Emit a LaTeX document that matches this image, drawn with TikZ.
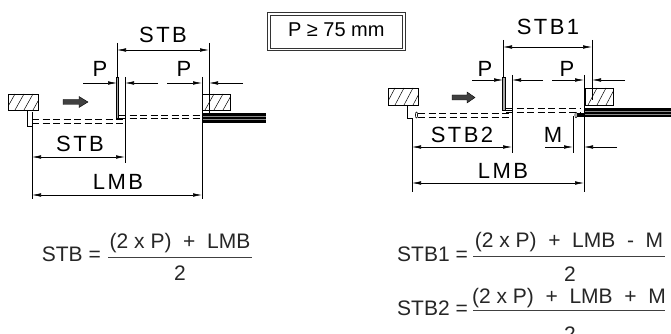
\documentclass[tikz,border=0pt]{standalone}
\usepackage{fontspec}
\setmainfont{Liberation Sans}
\newfontfamily\lblfont[LetterSpace=11]{Liberation Sans}
\usetikzlibrary{arrows.meta}
\tikzset{
 ln/.style={line width=0.6pt},
 dimline/.style={ln, {Latex[length=9pt,width=3.6pt]}-{Latex[length=9pt,width=3.6pt]}},
 pointer/.style={ln, -{Latex[length=9pt,width=3.6pt]}},
 lbl/.style={font=\lblfont\fontsize{22}{22}\selectfont, inner sep=0pt},
 frm/.style={font=\fontsize{21}{21}\selectfont, inner sep=0pt, text=black!85, anchor=base},
 fracline/.style={line width=0.7pt, draw=black!75},
 dashtube/.style={line width=0.5pt, dash pattern=on 7pt off 3.5pt},
 wall/.style={line width=0.8pt, fill=white},
 hatch/.style={line width=0.5pt},
 tube/.style={line width=0.5pt, fill=black!35},
 cable/.style={fill=black},
 blockarrow/.style={fill=black!75, draw=black, line width=0.4pt},
 boxline/.style={line width=0.6pt, draw=black!80},
}
\begin{document}
\begin{tikzpicture}[x=1pt,y=-1pt]
\useasboundingbox (0,0) rectangle (671,334);
% ================= LEFT DIAGRAM =================
\draw[wall] (8,94) rectangle (38,110);
\begin{scope}\clip (8,94) rectangle (38,110);
\foreach \a in {6,15,24,33} \draw[hatch] (\a,110) -- (\a+9,94);
\end{scope}
\draw[wall] (202,94) rectangle (230,110);
\begin{scope}\clip (202,94) rectangle (230,110);
\foreach \a in {205,214,223} \draw[hatch] (\a,110) -- (\a+9,94);
\end{scope}
\draw[ln] (27,110) -- (27,126) -- (32,126);
\fill[cable] (202,113) rectangle (266,123);
\draw[black!45, line width=0.5pt] (202,116.3) -- (266,116.3) (202,119.7) -- (266,119.7);
\draw[dashtube] (32,119.5) -- (125,119.5) (32,123) -- (125,123);
\draw[dashtube] (119,115) -- (202,115) (119,118.5) -- (202,118.5);
\draw[tube] (116,77) rectangle (118.6,118);
\draw[blockarrow] (63,99.5) -- (79,99.5) -- (79,96.5) -- (88,102) -- (79,107.5) -- (79,104.5) -- (63,104.5) -- cycle;
\coordinate (la1) at (32,112); \coordinate (la2) at (32,199);
\coordinate (lb1) at (117,43); \coordinate (lb2) at (117,77);
\coordinate (lc1) at (125,77); \coordinate (lc2) at (125,163);
\coordinate (ld1) at (202,77); \coordinate (ld2) at (202,199);
\coordinate (le1) at (209,43); \coordinate (le2) at (209,113);
\draw[ln] (la1) -- (la2) (lb1) -- (lb2) (lc1) -- (lc2) (ld1) -- (ld2) (le1) -- (le2);
\coordinate (lstbA) at (117,50); \coordinate (lstbB) at (209,50);
\draw[dimline] (lstbA) -- (lstbB);
\node[lbl] (tLstbTop) at (163,35) {STB};
\coordinate (lp1o) at (83,83); \coordinate (lp1i) at (117,83);
\coordinate (lp2o) at (158,83); \coordinate (lp2i) at (125,83);
\draw[pointer] (lp1o) -- (lp1i); \draw[pointer] (lp2o) -- (lp2i);
\node[lbl] (tLp1) at (100,68.5) {P};
\coordinate (lp3o) at (167,83); \coordinate (lp3i) at (202,83);
\coordinate (lp4o) at (243,83); \coordinate (lp4i) at (209,83);
\draw[pointer] (lp3o) -- (lp3i); \draw[pointer] (lp4o) -- (lp4i);
\node[lbl] (tLp2) at (184,68.5) {P};
\coordinate (lsA) at (32,157); \coordinate (lsB) at (125,157);
\draw[dimline] (lsA) -- (lsB);
\node[lbl] (tLstbBot) at (80,143.5) {STB};
\coordinate (lmA) at (32,195); \coordinate (lmB) at (202,195);
\draw[dimline] (lmA) -- (lmB);
\node[lbl] (tLlmb) at (118,182) {LMB};
% ================= BOX =================
\coordinate (boxo1) at (267.7,12.7); \coordinate (boxo2) at (405,50.7);
\coordinate (boxi1) at (270.2,15.2); \coordinate (boxi2) at (402.5,48.2);
\draw[boxline] (boxo1) rectangle (boxo2);
\draw[boxline] (boxi1) rectangle (boxi2);
\node[inner sep=0pt, font=\fontsize{20}{20}\selectfont] (box) at (336.3,30) {P ≥ 75 mm};
% ================= RIGHT DIAGRAM =================
\draw[wall] (388,88) rectangle (418,105);
\begin{scope}\clip (388,88) rectangle (418,105);
\foreach \a in {386,395,404,413} \draw[hatch] (\a,105) -- (\a+9,88);
\end{scope}
\draw[wall] (585,88) rectangle (613,105);
\begin{scope}\clip (585,88) rectangle (613,105);
\foreach \a in {588,597,606} \draw[hatch] (\a,105) -- (\a+9,88);
\end{scope}
\draw[ln] (407,105) -- (407,118) -- (412,118);
\draw[ln] (416.5,115) ellipse (1.1pt and 3pt);
\fill[cable] (584,108) rectangle (671,117);
\fill[cable] (575,113) rectangle (584,117);
\draw[black!45, line width=0.5pt] (584,111) -- (671,111) (584,114) -- (671,114);
\draw[ln, fill=white] (576,115) ellipse (1.1pt and 2.8pt);
\draw[dashtube] (418,113) -- (512,113) (418,117) -- (512,117);
\draw[dashtube] (506,108) -- (581,108) (506,112) -- (581,112);
\draw[tube] (502.3,77) rectangle (505,110);
\draw[ln] (503,110) -- (512,110);
\draw[blockarrow] (452,95) -- (467,95) -- (467,92) -- (475,97.5) -- (467,103) -- (467,100) -- (452,100) -- cycle;
\coordinate (ra1) at (412,118); \coordinate (ra2) at (412,192);
\coordinate (rb1) at (503,40); \coordinate (rb2) at (503,77);
\coordinate (rc1) at (512,75); \coordinate (rc2) at (512,153);
\coordinate (rd1) at (573,116); \coordinate (rd2) at (573,153);
\coordinate (re1) at (584,75); \coordinate (re2) at (584,192);
\coordinate (rf1) at (592,40); \coordinate (rf2) at (592,100);
\draw[ln] (ra1) -- (ra2) (rb1) -- (rb2) (rc1) -- (rc2) (rd1) -- (rd2) (re1) -- (re2) (rf1) -- (rf2);
\coordinate (rsA) at (503,47); \coordinate (rsB) at (592,47);
\draw[dimline] (rsA) -- (rsB);
\node[lbl] (tRstb1) at (548,26.5) {STB1};
\coordinate (rp1o) at (472,80); \coordinate (rp1i) at (503,80);
\coordinate (rp2o) at (543,80); \coordinate (rp2i) at (512,80);
\draw[pointer] (rp1o) -- (rp1i); \draw[pointer] (rp2o) -- (rp2i);
\node[lbl] (tRp1) at (485,69) {P};
\coordinate (rp3o) at (552,80); \coordinate (rp3i) at (584,80);
\coordinate (rp4o) at (625,80); \coordinate (rp4i) at (592,80);
\draw[pointer] (rp3o) -- (rp3i); \draw[pointer] (rp4o) -- (rp4i);
\node[lbl] (tRp2) at (567,69) {P};
\coordinate (rs2A) at (412,147); \coordinate (rs2B) at (512,147);
\draw[dimline] (rs2A) -- (rs2B);
\node[lbl] (tRstb2) at (462,134.5) {STB2};
\coordinate (rm1o) at (545,147); \coordinate (rm1i) at (573,147);
\coordinate (rm2o) at (617,147); \coordinate (rm2i) at (584,147);
\draw[pointer] (rm1o) -- (rm1i); \draw[pointer] (rm2o) -- (rm2i);
\node[lbl] (tRm) at (553,134.5) {M};
\coordinate (rlA) at (412,183); \coordinate (rlB) at (584,183);
\draw[dimline] (rlA) -- (rlB);
\node[lbl] (tRlmb) at (503,171) {LMB};
% ================= FORMULAS =================
\node[frm, anchor=base east] (fL) at (101,261.5) {STB =};
\node[frm] (fLn) at (180,248) {(2 x P)\ \ +\ \ LMB};
\coordinate (fLa) at (108,257); \coordinate (fLb) at (252,257);
\draw[fracline] (fLa) -- (fLb);
\node[frm] (fLd) at (180,280) {2};
\node[frm, anchor=base east] (fR1) at (468,261.5) {STB1 =};
\node[frm] (fR1n) at (569,247) {(2 x P)\ \ +\ \ LMB\ \ -\ \ M};
\coordinate (fR1a) at (473,256); \coordinate (fR1b) at (665,256);
\draw[fracline] (fR1a) -- (fR1b);
\node[frm] (fR1d) at (570,281) {2};
\node[frm, anchor=base east] (fR2) at (468,315) {STB2 =};
\node[frm] (fR2n) at (569,303) {(2 x P)\ \ +\ \ LMB\ \ +\ \ M};
\coordinate (fR2a) at (473,310); \coordinate (fR2b) at (665,310);
\draw[fracline] (fR2a) -- (fR2b);
\node[frm] (fR2d) at (570,341) {2};
\end{tikzpicture}
\end{document}
